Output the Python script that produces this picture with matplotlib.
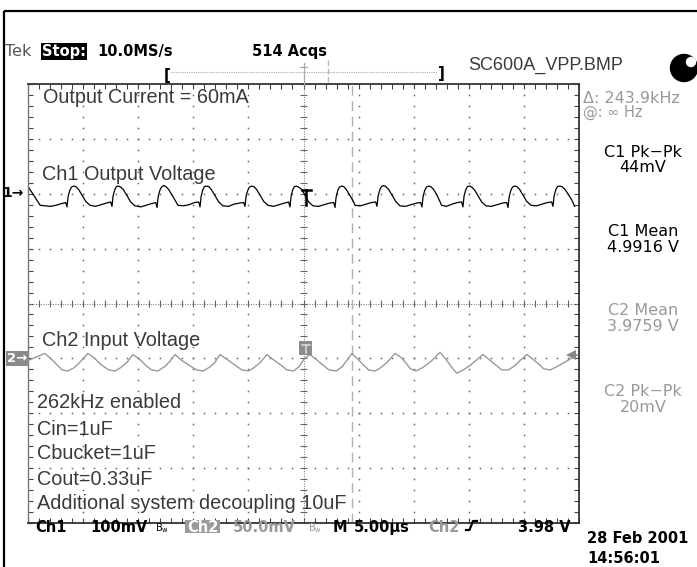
import matplotlib
matplotlib.use("Agg")
import matplotlib.pyplot as plt
from matplotlib.patches import Rectangle, Circle
import numpy as np

W, H = 697, 567
GRAY = "#999999"
INK = "#3a3a3a"

# ── scope settings / readouts ───────────────────────────────────────────────
CH1_SCALE_MV = 100.0      # mV/div
CH2_SCALE_MV = 50.0
CH1_POS_DIV = 2.03        # channel reference marker, divisions from centre
CH2_POS_DIV = -0.99
CURSOR_US = 4.40

# Ch1 output ripple (time in us from trigger, mV about reference)
CH1_T = [-24.9, -24.5, -23.9,
         -22.96, -22.46, -21.96, -21.58, -21.46, -21.36, -21.21, -21.06, -20.86, -20.66, -20.41, -20.11, -19.76,
         -19.38, -18.88, -18.38, -17.88, -17.50, -17.38, -17.28, -17.13, -16.98, -16.78, -16.58, -16.33, -16.03, -15.68,
         -15.29, -14.79, -14.29, -13.79, -13.41, -13.29, -13.19, -13.04, -12.89, -12.69, -12.49, -12.24, -11.94, -11.59,
         -11.39, -10.89, -10.39, -9.89, -9.51, -9.39, -9.29, -9.14, -8.99, -8.79, -8.59, -8.34, -8.04, -7.69,
         -7.31, -6.81, -6.31, -5.81, -5.43, -5.31, -5.21, -5.06, -4.91, -4.71, -4.51, -4.26, -3.96, -3.61,
         -3.23, -2.73, -2.23, -1.73, -1.35, -1.23, -1.13, -0.98, -0.83, -0.63, -0.43, -0.18, 0.12, 0.47,
         0.86, 1.36, 1.86, 2.36, 2.74, 2.86, 2.96, 3.11, 3.26, 3.46, 3.66, 3.91, 4.21, 4.56,
         4.67, 5.17, 5.67, 6.17, 6.55, 6.67, 6.77, 6.92, 7.07, 7.27, 7.47, 7.72, 8.02, 8.37,
         8.75, 9.25, 9.75, 10.25, 10.63, 10.75, 10.85, 11.00, 11.15, 11.35, 11.55, 11.80, 12.10, 12.40,
         12.52, 12.97, 13.47, 13.97, 14.35, 14.47, 14.57, 14.72, 14.87, 15.07, 15.27, 15.52, 15.82, 16.17,
         16.56, 17.06, 17.56, 18.06, 18.44, 18.56, 18.66, 18.81, 18.96, 19.16, 19.36, 19.61, 19.91, 20.26,
         20.64, 21.14, 21.64, 22.14, 22.52, 22.64, 22.74, 22.89, 23.04, 23.24, 23.44, 23.69, 23.99, 24.34, 24.6]
CH1_MV = [7, -5, -24,
          -26, -24, -21, -19, -27, -8, 3, 9, 11, 10, 5, -5, -17,
          -24, -26, -23, -20, -18, -26, -7, 4, 10, 11, 9, 4, -6, -18,
          -25, -27, -24, -21, -19, -28, -9, 3, 9, 12, 10, 5, -5, -17,
          -24, -25, -23, -19, -18, -27, -8, 4, 10, 11, 10, 4, -6, -18,
          -25, -26, -22, -20, -19, -26, -7, 3, 9, 11, 10, 5, -5, -17,
          -24, -26, -23, -20, -18, -27, -8, 4, 10, 11, 9, 5, -5, -18,
          -25, -26, -23, -20, -19, -28, -9, 3, 9, 11, 10, 4, -6, -18,
          -24, -25, -22, -19, -18, -26, -7, 4, 10, 12, 10, 5, -5, -17,
          -25, -26, -23, -20, -19, -27, -8, 3, 9, 11, 10, 5, -5, -18,
          -24, -26, -22, -19, -18, -27, -7, 4, 10, 11, 9, 4, -6, -18,
          -25, -26, -23, -20, -19, -28, -9, 3, 9, 11, 10, 5, -5, -17,
          -24, -25, -22, -19, -18, -26, -7, 4, 10, 11, 10, 6, -3, -14, -26]

# Ch2 input ripple
CH2_T = [-24.9, -24.2, -23.46, -22.9, -22.3, -21.9, -21.4, -20.8, -20.2, -19.56,
         -19.0, -18.4, -17.7, -17.1, -16.6, -16.0, -15.48, -14.9, -14.3, -13.8,
         -13.2, -12.6, -12.1, -11.66, -11.1, -10.5, -9.7, -9.1, -8.6, -8.1,
         -7.58, -7.0, -6.3, -5.6, -5.0, -4.5, -3.9, -3.31, -2.7, -2.0,
         -1.5, -0.9, -0.4, 0.05, 0.59, 1.1, 1.7, 2.3, 3.0, 3.5,
         3.9, 4.40, 4.9, 5.5, 5.9, 6.5, 7.0, 7.6, 8.30, 8.9,
         9.4, 9.7, 10.2, 10.8, 11.6, 12.39, 12.9, 13.4, 13.9, 14.5,
         15.1, 15.7, 16.29, 16.9, 17.5, 18.0, 18.6, 19.2, 19.7, 20.28,
         20.9, 21.5, 21.8, 22.4, 23.0, 23.7, 24.4]
CH2_MV = [-2, 1, 4, -1, -7, -11, -12, -9, -3, 4,
          0, -6, -11, -12, -9, -4, 3, -1, -7, -11,
          -12, -8, -3, 3, -2, -6, -11, -12, -9, -5,
          3, -1, -6, -11, -12, -9, -4, 3, -2, -7,
          -11, -12, -8, -1, 3, -1, -6, -11, -12, -8,
          -3, 4, -1, -7, -11, -12, -9, -4, 4, 0,
          -6, -10, -12, -9, -3, 5, -1, -8, -14, -11,
          -7, -2, 3, -2, -7, -11, -11, -7, -2, 3,
          -2, -7, -10, -11, -8, -4, 0]

NOTES = ["Output Current = 60mA", "Ch1 Output Voltage", "Ch2 Input Voltage",
         "262kHz enabled", "Cin=1uF", "Cbucket=1uF", "Cout=0.33uF",
         "Additional system decoupling 10uF"]
READ_BLACK = [("C1 Pk\u2212Pk", "44mV"), ("C1 Mean", "4.9916 V")]
READ_GRAY = [("C2 Mean", "3.9759 V"), ("C2 Pk\u2212Pk", "20mV")]

fig = plt.figure(figsize=(W / 100, H / 100), dpi=100)
fig.patch.set_facecolor("white")

# ── graticule ────────────────────────────────────────────────────────────────
GL, GT, GR, GB = 28, 84, 579, 523
ax = fig.add_axes([GL / W, 1 - GB / H, (GR - GL) / W, (GB - GT) / H])
ax.set_xlim(-25, 25)
ax.set_ylim(-4, 4)
ax.set_xticks(np.arange(-25, 25.01, 1.0))
ax.set_yticks(np.arange(-4, 4.01, 0.2))
ax.tick_params(which="both", direction="in", length=3.5, width=0.8, color="#444",
               top=True, right=True, labelbottom=False, labelleft=False)
for s in ax.spines.values():
    s.set_color("#333")
    s.set_linewidth(1.3)
ax.spines["left"].set_color("#777")
ax.spines["left"].set_linewidth(1.0)

dot = dict(ls="none", marker="s", ms=1.1, mew=0, color="#666")
ys = np.arange(-4, 4.01, 0.2)
xs = np.arange(-25, 25.01, 1.0)
for xv in [-20, -15, -10, -5, 5, 10, 15, 20]:
    ax.plot(np.full_like(ys, xv), ys, **dot)
for yv in [-3, -2, -1, 1, 2, 3]:
    ax.plot(xs, np.full_like(xs, yv), **dot)

# centre lines with minor ticks
ax.axvline(0, color="#888", lw=0.8, ls=(0, (1, 1.2)))
ax.axhline(0, color="#888", lw=0.8, ls=(0, (1, 1.2)))
ax.hlines(ys, -0.28, 0.28, color="#666", lw=0.8)
ax.vlines(xs, -0.06, 0.06, color="#666", lw=0.8)

# cursor
ax.axvline(CURSOR_US, color="#b0b0b0", lw=1.0, ls=(0, (7, 4)))

# traces
ax.plot(CH2_T, np.array(CH2_MV) / CH2_SCALE_MV + CH2_POS_DIV, color=GRAY, lw=1.0)
ax.plot(CH1_T, np.array(CH1_MV) / CH1_SCALE_MV + CH1_POS_DIV, color="black", lw=0.9)

# ── overlay in pixel coordinates ─────────────────────────────────────────────
ov = fig.add_axes([0, 0, 1, 1], zorder=5)
ov.set_xlim(0, W)
ov.set_ylim(H, 0)
ov.axis("off")
ov.patch.set_alpha(0)

# outer frame
ov.plot([3.5, W], [11, 11], color="black", lw=1.6, solid_capstyle="butt")
ov.plot([3.5, 3.5], [11, H], color="black", lw=1.6, solid_capstyle="butt")

TEK = dict(family="DejaVu Sans", fontweight="bold", va="baseline")
READ = dict(family="DejaVu Sans", va="baseline", ha="center", fontsize=11.5)

# header
ov.text(5, 56, "Tek", color="#555", fontsize=11.5, family="DejaVu Sans", va="baseline")
ov.text(42, 56, "Stop:", color="white", fontsize=10.5, **TEK,
        bbox=dict(boxstyle="square,pad=0.1", fc="black", ec="none"))
ov.text(97, 56, "10.0MS/s", color="black", fontsize=10.5, **TEK)
ov.text(252, 56, "514 Acqs", color="black", fontsize=10.5, **TEK)
ov.text(468, 70, "SC600A_VPP.BMP", color=INK, fontsize=13, family="Liberation Sans",
        va="baseline")
ov.add_patch(Circle((684, 68), 13.5, color="black"))
ov.add_patch(Circle((691, 62), 4.5, color="white"))

# record-position bar
ov.text(167, 80, "[", color="black", fontsize=11, ha="center", **TEK)
ov.text(441, 78, "]", color="black", fontsize=11, ha="center", **TEK)
ov.plot([171, 437], [72, 72], color="#aaa", lw=0.8, ls=(0, (1, 1)))
ov.plot([303.5, 303.5], [63, 84], color="#aaa", lw=0.9)
ov.plot([300, 307], [67, 67], color="#aaa", lw=0.9)
ov.plot([328, 328], [60, 84], color="#bbb", lw=1.0, ls=(0, (4, 2)))

# annotations on screen
note_y = [103, 180, 346, 408, 435, 459, 485, 509]
note_x = [43, 42, 42, 37, 37, 37, 37, 37]
for txt, x, y in zip(NOTES, note_x, note_y):
    ov.text(x, y, txt, color=INK, fontsize=14.3, family="Liberation Sans", va="baseline")

# channel markers
ov.text(2, 197, "1\u2192", color="black", fontsize=10, **TEK)
ov.text(7, 362, "2\u2192", color="white", fontsize=9.5, **TEK,
        bbox=dict(boxstyle="square,pad=0.1", fc="#8a8a8a", ec="none"))

# trigger markers
ov.plot([302, 311], [190, 190], color="black", lw=1.8)
ov.plot([306, 306], [190, 205], color="black", lw=1.8)
ov.add_patch(Rectangle((299, 341), 13, 14, fc="#8c8c8c", ec="none"))
ov.plot([301.5, 309.5], [344.5, 344.5], color="#d8d8d8", lw=1.2)
ov.plot([305.5, 305.5], [344.5, 353], color="#d8d8d8", lw=1.2)
ov.plot([571], [355], marker="<", ms=7, color="#888", mew=0)
ov.plot([572, 577], [355, 355], color="#888", lw=1.2)

# right-hand readouts
ov.text(583, 103, "\u0394: 243.9kHz", color=GRAY, fontsize=11.5, family="DejaVu Sans",
        va="baseline")
ov.text(583, 117, "@: \u221e Hz", color=GRAY, fontsize=10.5, family="DejaVu Sans",
        va="baseline")
for (a, b), (ya, yb) in zip(READ_BLACK, [(157, 172), (236, 252)]):
    ov.text(643, ya, a, color="black", **READ)
    ov.text(643, yb, b, color="black", **READ)
for (a, b), (ya, yb) in zip(READ_GRAY, [(315, 331), (396, 412)]):
    ov.text(643, ya, a, color=GRAY, **READ)
    ov.text(643, yb, b, color=GRAY, **READ)

# bottom status line
BY = 532
ov.text(35, BY, "Ch1", color="black", fontsize=10.5, **TEK)
ov.text(90, BY, "100mV", color="black", fontsize=10.5, **TEK)
ov.text(155, BY - 1, r"$\mathregular{B_w}$", color="black", fontsize=7, va="baseline")
ov.add_patch(Rectangle((185, 520), 35, 13, fc="#9a9a9a", ec="none"))
ov.text(187, BY, "Ch2", color="white", fontsize=10.5, **TEK)
ov.text(233, BY, "50.0mV", color=GRAY, fontsize=10.5, **TEK)
ov.text(308, BY - 1, r"$\mathregular{B_w}$", color=GRAY, fontsize=7, va="baseline")
ov.text(333, BY, "M", color="black", fontsize=10.5, **TEK)
ov.text(354, BY, "5.00\u00b5s", color="black", fontsize=10.5, **TEK)
ov.text(428, BY, "Ch2", color=GRAY, fontsize=10.5, **TEK)
ov.plot([466, 469.5, 473, 477], [530, 530, 521, 521], color="black", lw=1.6)
ov.text(518, BY, "3.98 V", color="black", fontsize=10.5, **TEK)
ov.text(587, 543, "28 Feb 2001", color="black", fontsize=10.5, **TEK)
ov.text(587, 563, "14:56:01", color="black", fontsize=10.5, **TEK)

fig.savefig("out.png", dpi=100)
